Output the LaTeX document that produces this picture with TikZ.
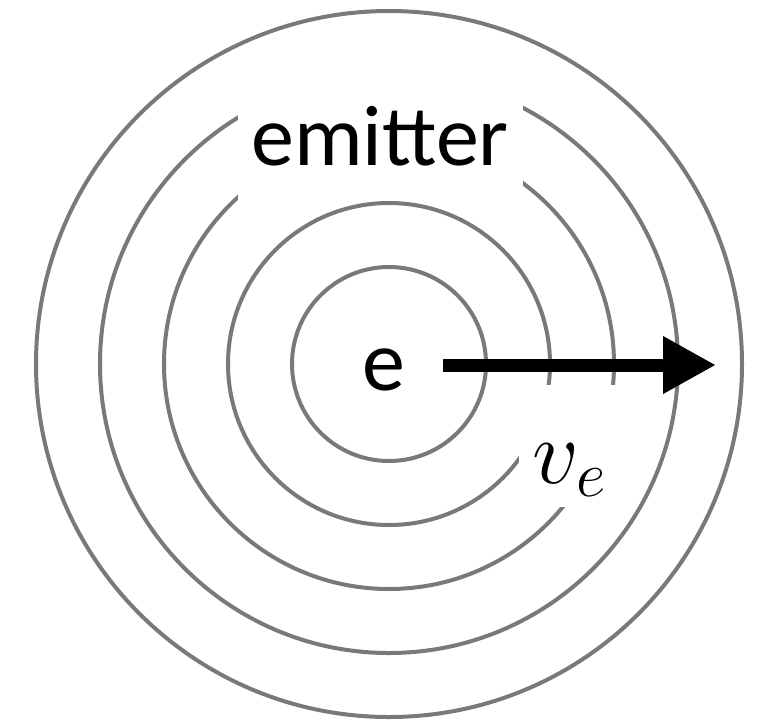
\RequirePackage{fix-cm}
\documentclass[tikz,border=0pt]{standalone}
\usepackage{fontspec}
\setmainfont{Carlito}
\usetikzlibrary{arrows.meta}
\begin{document}
\begin{tikzpicture}[x=1pt,y=-1pt,
  ring/.style={draw=gray!95!black, line width=4pt},
  cover/.style={fill=white, inner sep=0pt, font=\fontsize{86}{86}\selectfont},
  velocity/.style={line width=13pt, -{Triangle[length=53pt,width=54pt]}}]
\useasboundingbox (0,0) rectangle (768,721);
\coordinate (c) at (389,364);
\foreach \r in {97,161,225,289,353} \draw[ring] (c) circle[radius=\r];
\node[cover, minimum width=285pt, text height=105pt, text depth=35pt] (emitter) at (380,165) [anchor=base] {emitter};
\node[cover, minimum width=101pt, text height=98pt, text depth=24pt, font=\fontsize{92}{92}\selectfont] (vlabel) at (569.5,483) [anchor=base] {$v_e$};
\node[font=\fontsize{86}{86}\selectfont, inner sep=0pt] (e) at (384,390) [anchor=base] {e};
\coordinate (arrowstart) at (443,365);
\coordinate (arrowend) at (716,365);
\draw[velocity] (arrowstart) -- (arrowend);
\end{tikzpicture}
\end{document}
